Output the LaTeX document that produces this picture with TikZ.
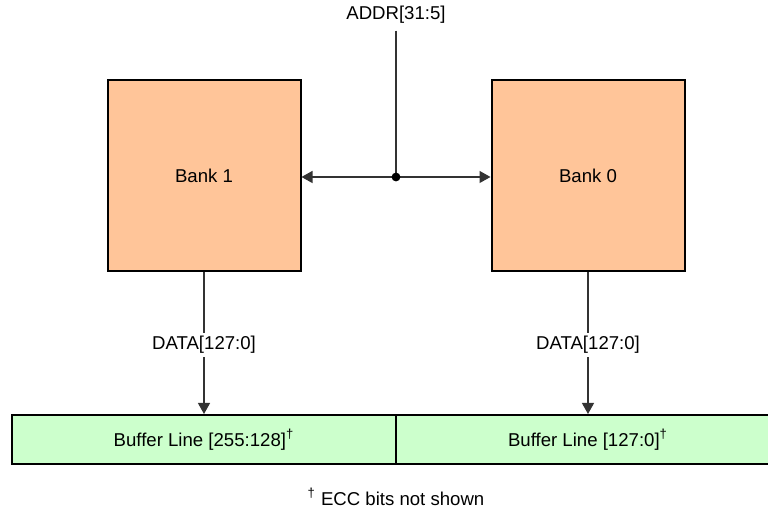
\documentclass[tikz,border=0pt]{standalone}
\usepackage{fontspec}
\setmainfont{Liberation Sans}
\usepackage{xcolor}
\usetikzlibrary{positioning, arrows.meta}
\definecolor{BankOrange}{HTML}{FFC599}
\definecolor{BufGreen}{HTML}{CCFFCC}
\definecolor{WireGray}{HTML}{333333}

\begin{document}
\begin{tikzpicture}[x=0.5pt, y=-0.5pt,
  every node/.style={font=\fontsize{9.3}{11}\selectfont},
  bank/.style={draw, line width=1pt, fill=BankOrange, minimum width=96.5pt,
    minimum height=95.5pt, inner sep=0pt},
  bufline/.style={draw, line width=1pt, fill=BufGreen, minimum width=192pt,
    minimum height=24.5pt, inner sep=0pt},
  lbl/.style={inner sep=1.5pt, fill=white},
  arr/.style={-{Triangle[length=5.5pt, width=6pt]}, line width=0.65pt, WireGray},
  wire/.style={line width=0.65pt, WireGray}
]
  \useasboundingbox (0,0) rectangle (768,512);

  % Banks
  \node[bank] (bank1) at (204,176) {Bank 1};
  \node[bank] (bank0) at (588,176) {Bank 0};

  % Address bus
  \node (addr) at (396,15) {ADDR[31:5]};
  \coordinate (join) at (396,177);
  \draw[wire] (addr.south) -- (join);
  \draw[arr] (join) -- (bank1.east |- join);
  \draw[arr] (join) -- (bank0.west |- join);
  \fill[black] (join) circle (2.2pt);

  % Buffer line
  \node[bufline] (buf1) at (204,439.5) {Buffer Line [255:128]\textsuperscript{\textdagger}};
  \node[bufline] (buf0) at (588,439.5) {Buffer Line [127:0]\textsuperscript{\textdagger}};

  % Data buses
  \node[lbl] (data1) at (204,345) {DATA[127:0]};
  \node[lbl] (data0) at (588,345) {DATA[127:0]};
  \draw[wire] (bank1.south) -- (data1.north);
  \draw[arr] (data1.south) -- (buf1.north);
  \draw[wire] (bank0.south) -- (data0.north);
  \draw[arr] (data0.south) -- (buf0.north);

  % Footnote
  \node (note) at (396,497) {\textsuperscript{\textdagger} ECC bits not shown};
\end{tikzpicture}
\end{document}
